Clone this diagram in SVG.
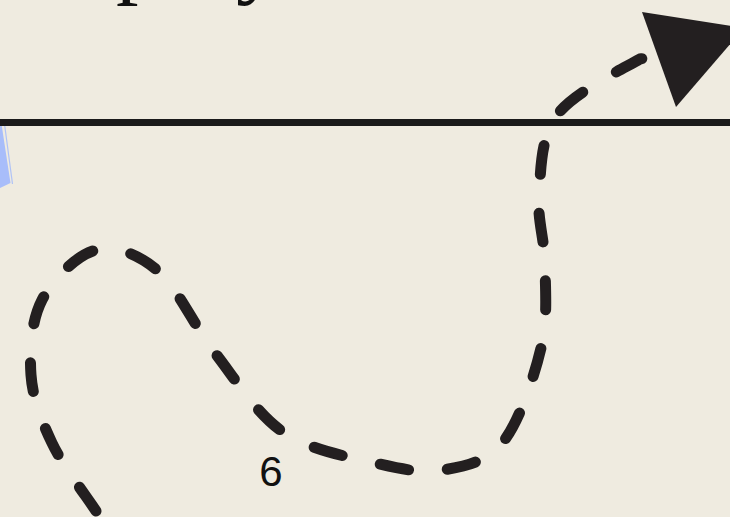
<svg xmlns="http://www.w3.org/2000/svg" width="730" height="517" viewBox="0 0 730 517">
  <style>
    .title { font-family: "Liberation Serif", "Times New Roman", serif; font-size: 90px; fill: #111111; }
    .label { font-family: "Liberation Sans", Arial, sans-serif; font-size: 42px; fill: #111111; }
    .flow { fill: none; stroke: #231F20; stroke-width: 11; stroke-linecap: round; stroke-linejoin: round; stroke-dasharray: 29 39; }
  </style>
  <rect x="0" y="0" width="730" height="517" fill="#EFEBE0"/>

  <g id="title">
    <text class="title" x="116" y="-13">p</text>
    <text class="title" x="236" y="-13">y</text>
  </g>

  <g id="blue-shape">
    <polygon points="0,124 1.5,124 10.5,183 0,188" fill="#A8BDFA"/>
    <line x1="4.5" y1="124" x2="12.5" y2="184" stroke="#AFC2F6" stroke-width="1.2"/>
  </g>

  <g id="divider">
    <rect x="0" y="119" width="730" height="7" fill="#1A1A1A"/>
  </g>

  <g id="connectors">
    <path class="flow" d="M96,511 C87,497.2 62.5,465.2 52,443 C41.5,420.8 32.7,398.8 31,375 C29.3,351.2 31.2,320.8 42,300 C52.8,279.2 76.7,254.8 96,250 C115.3,245.2 138.2,253.8 158,271 C177.8,288.2 194.2,326.2 215,353 C235.8,379.8 256.3,413.7 283,432 C309.7,450.3 348.3,456.7 375,463 C401.7,469.3 421.7,473.5 443,470 C464.3,466.5 486.7,462.3 503,442 C519.3,421.7 534,377.5 541,348 C548,318.5 545.3,290.5 545,265 C544.7,239.5 537,220 539,195 C541,170 540.2,137.7 557,115 C573.8,92.3 622.8,69 640,59 L660,55"/>
    <polygon points="642,12 744,28 676,107" fill="#231F20"/>
  </g>

  <g id="label-6">
    <text class="label" x="271" y="486" text-anchor="middle">6</text>
  </g>
</svg>
